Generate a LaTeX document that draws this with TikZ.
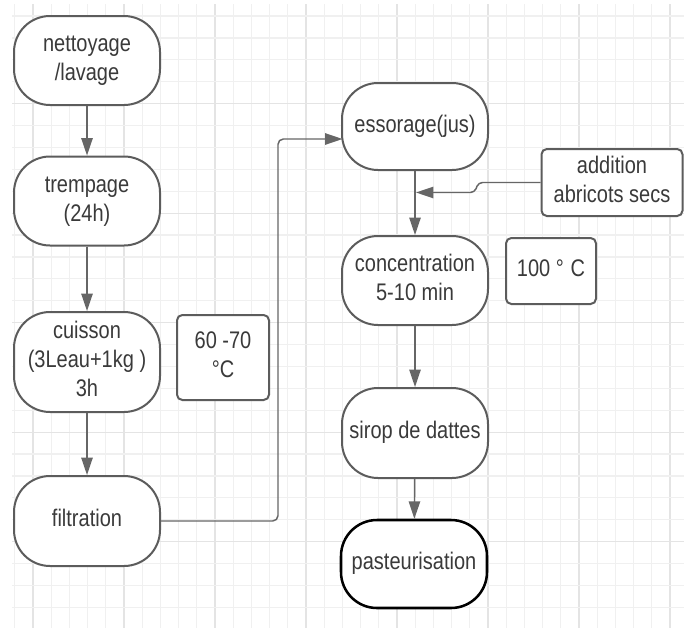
\documentclass[tikz,border=0pt]{standalone}
\usepackage{fontspec}
\setmainfont{Liberation Sans}
\usepackage{graphicx}
\usetikzlibrary{arrows.meta}
\definecolor{bord}{HTML}{5C5C5C}
\definecolor{fleche}{HTML}{666666}
\definecolor{texte}{HTML}{3A3A3A}
\definecolor{grille}{HTML}{F0F0F0}
\definecolor{grillefort}{HTML}{E4E4E4}
\newcommand{\etiq}[1]{\scalebox{1}[1.2]{\begin{tabular}{@{}c@{}}#1\end{tabular}}}
\tikzset{
    etape/.style={
        draw=bord, line width=1.5pt, fill=white, rounded corners=27pt,
        minimum width=109.5pt, minimum height=66.75pt, inner sep=0pt,
        text=texte, font=\fontsize{15}{18}\selectfont
    },
    note/.style={
        draw=bord, line width=1.5pt, fill=white, rounded corners=4pt,
        inner sep=0pt, text=texte, font=\fontsize{15}{18}\selectfont
    },
    flux/.style={
        draw=fleche, line width=1.1pt,
        -{Triangle[length=13pt, width=8.5pt]}
    }
}

\begin{document}
\begin{tikzpicture}[x=0.75pt, y=-0.75pt]
    \useasboundingbox[fill=white] (0,0) rectangle (684,628);

    % Quadrillage
    \foreach \k in {0,...,36}{
        \pgfmathtruncatemacro\r{mod(\k,5)}
        \ifnum\r=1 \def\c{grillefort}\else\def\c{grille}\fi
        \draw[\c, line width=0.9pt] ({14.8+18.2*\k},4) -- ({14.8+18.2*\k},628);
    }
    \foreach \k in {0,...,27}{
        \pgfmathtruncatemacro\r{mod(\k,5)}
        \ifnum\r=4 \def\c{grillefort}\else\def\c{grille}\fi
        \draw[\c, line width=0.9pt] (12,{16+21.9*\k}) -- (684,{16+21.9*\k});
    }

    % Colonne gauche
    \node[etape] (nettoyage) at (87,60.5) {\etiq{nettoyage\\/lavage}};
    \node[etape] (trempage) at (87,201) {\etiq{trempage\\(24h)}};
    \node[etape, minimum height=75pt] (cuisson) at (87,362) {\etiq{cuisson\\(3Leau+1kg )\\3h}};
    \node[etape, minimum height=67.5pt] (filtration) at (87,521) {\etiq{filtration}};

    \node[note, minimum width=69pt, minimum height=63.75pt] (temp1) at (223,357.5)
        {\etiq{60 -70\\°C}};

    % Colonne droite
    \node[etape, minimum height=65.25pt] (essorage) at (415,126.5) {\etiq{essorage(jus)}};
    \node[etape] (concentration) at (415,280.5) {\etiq{concentration\\5-10 min}};
    \node[etape, minimum height=67.5pt] (sirop) at (415,433) {\etiq{sirop de dattes}};
    \node[etape, draw=black, line width=1.9pt, minimum height=66pt] (pasteur) at (414,564)
        {\etiq{pasteurisation}};

    \node[note, minimum width=67.5pt, minimum height=49.5pt] (temp2) at (551,271)
        {\etiq{100 °\hspace{5pt}C}};
    \node[note, minimum width=105.75pt, minimum height=50.25pt] (abricots) at (612,182.5)
        {\etiq{addition\\abricots secs}};

    \coordinate (entree) at (342.5,139);
    \coordinate (jonction) at (416,192.5);

    % Fleches
    \draw[flux] (nettoyage) -- (trempage);
    \draw[flux] (trempage) -- (cuisson);
    \draw[flux] (cuisson) -- (filtration);
    \draw[flux, rounded corners=4pt] (filtration.east) -| (278,139) -- (entree);
    \draw[flux] (essorage) -- (concentration);
    \draw[flux] (concentration) -- (sirop);
    \draw[flux] (sirop) -- (pasteur);
    \draw[flux, rounded corners=3pt] (abricots.west) -- ++(-62,0) -- ++(-4,10) -- (jonction);

\end{tikzpicture}
\end{document}
